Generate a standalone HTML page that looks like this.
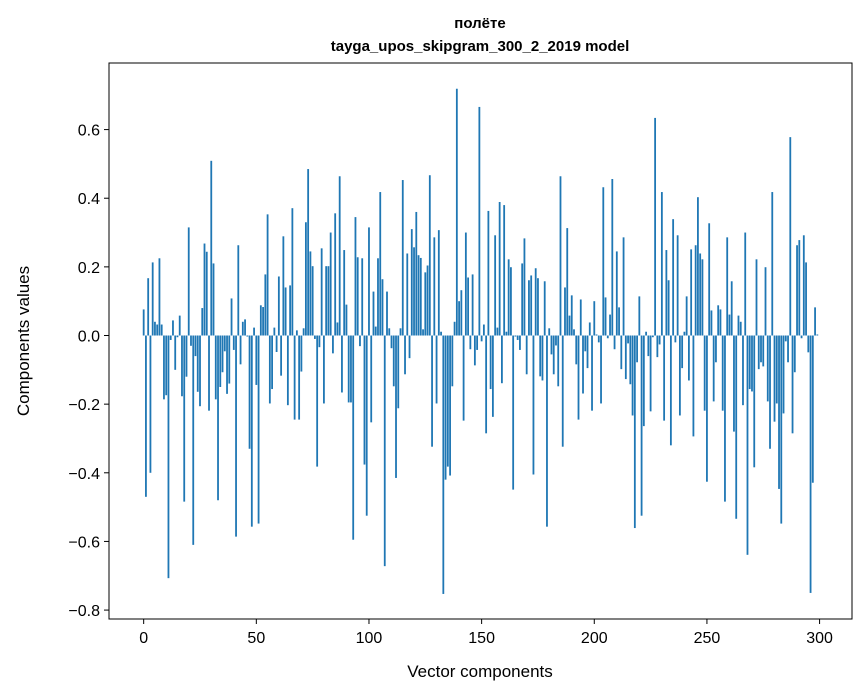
<!DOCTYPE html>
<html><head><meta charset="utf-8"><style>
html,body{margin:0;padding:0;background:#fff;}
svg{display:block;font-family:"Liberation Sans","DejaVu Sans",sans-serif;}
</style></head><body>
<svg id="chart" width="867" height="696" viewBox="0 0 867 696" xmlns="http://www.w3.org/2000/svg">
<rect x="0" y="0" width="867" height="696" fill="#fff"/>
<text x="480" y="28" text-anchor="middle" font-size="15" font-weight="bold">полёте</text>
<text x="480" y="51" text-anchor="middle" font-size="15" font-weight="bold">tayga_upos_skipgram_300_2_2019 model</text>
<g id="bars"></g>
<g id="xticks"></g>
<g id="yticks"></g>
<rect x="109" y="63" width="743" height="556" fill="none" stroke="#000" stroke-width="1"/>
<text x="480" y="677" text-anchor="middle" font-size="17">Vector components</text>
<text transform="translate(29,341) rotate(-90)" text-anchor="middle" font-size="17">Components values</text>
</svg>
<script>
const values = [
0.076,-0.47,0.167,-0.40,0.213,0.04,0.032,0.225,0.032,-0.186,
-0.174,-0.707,-0.013,0.044,-0.10,-0.005,0.058,-0.177,-0.484,-0.12,
0.315,-0.03,-0.61,-0.06,-0.164,-0.206,0.08,0.268,0.244,-0.219,
0.509,0.21,-0.186,-0.48,-0.15,-0.107,-0.046,-0.17,-0.14,0.108,
-0.042,-0.586,0.263,-0.084,0.04,0.047,-0.003,-0.33,-0.557,0.023,
-0.144,-0.548,0.088,0.083,0.178,0.353,-0.198,-0.156,0.023,-0.048,
0.172,-0.117,0.289,0.14,-0.203,0.146,0.371,-0.245,0.015,-0.245,
-0.105,0.021,0.33,0.485,0.245,0.202,-0.01,-0.382,-0.034,0.254,
-0.198,0.202,0.202,0.30,-0.052,0.356,0.038,0.464,-0.166,0.249,
0.09,-0.195,-0.195,-0.595,0.345,0.228,-0.031,0.225,-0.376,-0.525,
0.315,-0.253,0.128,0.026,0.225,0.418,0.164,-0.672,0.128,0.021,
-0.037,-0.148,-0.415,-0.212,0.021,0.453,-0.113,0.239,-0.066,0.31,
0.257,0.36,0.234,0.226,0.018,0.184,0.204,0.467,-0.324,0.286,
-0.198,0.307,0.011,-0.753,-0.42,-0.382,-0.408,-0.148,0.04,0.719,
0.1,0.132,-0.248,0.30,0.169,-0.04,0.178,-0.087,-0.042,0.666,
-0.017,0.032,-0.285,0.363,-0.156,-0.237,0.292,0.023,0.389,-0.139,
0.38,0.011,0.222,0.199,-0.449,-0.003,-0.013,-0.042,0.21,0.283,
-0.113,0.161,0.175,-0.405,0.196,0.167,-0.119,-0.131,0.158,-0.557,
0.021,-0.055,-0.113,-0.029,-0.148,0.464,-0.324,0.14,0.313,0.058,
0.117,0.018,-0.084,-0.245,0.105,-0.169,-0.046,-0.095,0.038,-0.219,
0.1,0.003,-0.02,-0.198,0.432,0.111,-0.008,0.061,0.456,-0.04,
0.245,0.082,-0.098,0.286,-0.127,-0.023,-0.142,-0.233,-0.561,-0.078,
0.114,-0.525,-0.264,0.011,-0.06,-0.221,-0.005,0.634,-0.063,-0.026,
0.418,-0.248,0.249,0.161,-0.32,0.339,-0.02,0.292,-0.233,-0.095,
0.011,0.114,-0.131,0.251,-0.294,0.263,0.403,0.239,0.222,-0.219,
-0.426,0.327,0.073,-0.192,-0.078,0.088,0.076,-0.219,-0.484,0.286,
0.061,0.158,-0.28,-0.534,0.058,0.04,-0.203,0.30,-0.639,-0.156,
-0.163,-0.384,0.222,-0.098,-0.078,-0.09,0.199,-0.192,-0.33,0.418,
-0.251,-0.198,-0.447,-0.548,-0.227,-0.017,-0.078,0.578,-0.285,-0.107,
0.263,0.278,-0.008,0.292,0.213,-0.049,-0.75,-0.429,0.082,0.003
];
const xTickValues = [0,50,100,150,200,250,300];
const yTickValues = [-0.8,-0.6,-0.4,-0.2,0.0,0.2,0.4,0.6];
const yTickLabels = ["\u22120.8","\u22120.6","\u22120.4","\u22120.2","0.0","0.2","0.4","0.6"];

const L=109,R=852,T=63,B=619;
const xmin=-15.39,xmax=314.39,ymin=-0.826,ymax=0.794;
function xs(v){return L+(v-xmin)/(xmax-xmin)*(R-L);}
function ys(v){return T+(ymax-v)/(ymax-ymin)*(B-T);}
const NS="http://www.w3.org/2000/svg";
const bars=document.getElementById('bars');
values.forEach(function(v,i){
  const r=document.createElementNS(NS,'rect');
  const x0=xs(i-0.4),x1=xs(i+0.4);
  const y0=ys(Math.max(v,0)),y1=ys(Math.min(v,0));
  r.setAttribute('x',x0);r.setAttribute('width',x1-x0);
  r.setAttribute('y',y0);r.setAttribute('height',Math.max(y1-y0,0.01));
  r.setAttribute('fill','#1f77b4');
  
  
  bars.appendChild(r);
});
const xg=document.getElementById('xticks');
xTickValues.forEach(function(v){
  const x=xs(v);
  const l=document.createElementNS(NS,'line');
  l.setAttribute('x1',x);l.setAttribute('x2',x);l.setAttribute('y1',B);l.setAttribute('y2',B+5);
  l.setAttribute('stroke','#000');
  
  
  xg.appendChild(l);
  const t=document.createElementNS(NS,'text');
  t.setAttribute('x',x);t.setAttribute('y',B+24);t.setAttribute('text-anchor','middle');t.setAttribute('font-size','16');
  t.textContent=String(v);
  
  
  xg.appendChild(t);
});
const yg=document.getElementById('yticks');
yTickValues.forEach(function(v,i){
  const y=ys(v);
  const l=document.createElementNS(NS,'line');
  l.setAttribute('x1',L-5);l.setAttribute('x2',L);l.setAttribute('y1',y);l.setAttribute('y2',y);
  l.setAttribute('stroke','#000');
  
  
  yg.appendChild(l);
  const t=document.createElementNS(NS,'text');
  t.setAttribute('x',L-9);t.setAttribute('y',y+6);t.setAttribute('text-anchor','end');t.setAttribute('font-size','16');
  t.textContent=yTickLabels[i];
  
  
  yg.appendChild(t);
});
</script>
</body></html>
